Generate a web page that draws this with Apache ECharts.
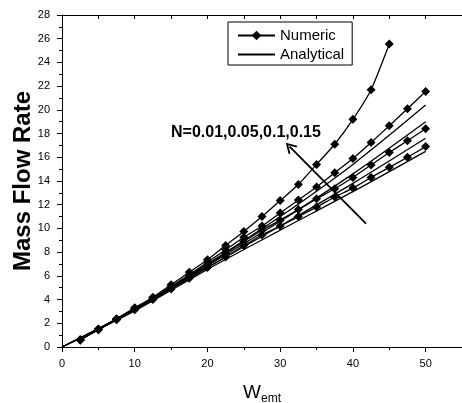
<!DOCTYPE html>
<html lang="en" style="height: 100%">
<head>
<meta charset="utf-8">
<title>Mass Flow Rate vs Wemt</title>
</head>
<body style="height: 100%; margin: 0; background: #fff">
<div id="container" style="width: 462px; height: 403px"></div>

<script type="text/javascript" src="https://cdn.jsdelivr.net/npm/echarts/dist/echarts.min.js"></script>

<script type="text/javascript">

// x positions of the numeric points
var wNumeric = [2.5, 5, 7.5, 10, 12.5, 15, 17.5, 20, 22.5, 25, 27.5, 30, 32.5, 35, 37.5, 40, 42.5, 45, 47.5, 50];

// numeric results (diamonds), N = 0.15, 0.1, 0.05, 0.01
var numN015 = [0.62, 1.52, 2.39, 3.3, 4.2, 5.25, 6.3, 7.36, 8.57, 9.75, 11.0, 12.35, 13.7, 15.4, 17.1, 19.2, 21.7, 25.55];
var numN010 = [0.6, 1.5, 2.35, 3.25, 4.15, 5.1, 6.1, 7.15, 8.2, 9.25, 10.2, 11.3, 12.4, 13.5, 14.7, 15.9, 17.25, 18.66, 20.1, 21.55];
var numN005 = [0.6, 1.48, 2.33, 3.2, 4.1, 5.0, 5.95, 6.9, 7.9, 8.9, 9.85, 10.7, 11.6, 12.5, 13.35, 14.3, 15.35, 16.4, 17.4, 18.4];
var numN001 = [0.6, 1.45, 2.3, 3.15, 4.0, 4.9, 5.8, 6.7, 7.6, 8.55, 9.45, 10.2, 11.0, 11.8, 12.65, 13.4, 14.3, 15.15, 16.0, 16.9];

// analytical curves (no markers)
var wAnalytical = [0, 10, 20, 30, 40, 50];
var anaA = [0, 3.2, 7.0, 11.0, 15.4, 20.4];
var anaB = [0, 3.15, 6.85, 10.6, 14.6, 19.0];
var anaC = [0, 3.1, 6.7, 10.2, 13.8, 17.6];
var anaD = [0, 3.05, 6.55, 9.85, 13.1, 16.5];

// arrow annotation (data coords: tail, head)
var arrowTail = [41.8, 10.4];
var arrowHead = [31.3, 16.9];

var FONT = '"Liberation Sans", Arial, sans-serif';

function pairs(xs, ys) {
    return ys.map(function (y, i) { return [xs[i], y]; });
}

function numericSeries(vals) {
    return {
        name: 'Numeric',
        type: 'line',
        data: pairs(wNumeric, vals),
        symbol: 'diamond',
        symbolSize: 9,
        showAllSymbol: true,
        smooth: 0.2,
        itemStyle: { color: '#000' },
        lineStyle: { color: '#000', width: 1.3 },
        animation: false,
        z: 3
    };
}

function analyticalSeries(vals) {
    return {
        name: 'Analytical',
        type: 'line',
        data: pairs(wAnalytical, vals),
        symbol: 'none',
        smooth: 0.3,
        itemStyle: { color: '#000' },
        lineStyle: { color: '#000', width: 1.3 },
        animation: false,
        z: 2
    };
}

var dom = document.getElementById('container');
var myChart = echarts.init(dom);

var series = [
    numericSeries(numN015),
    numericSeries(numN010),
    numericSeries(numN005),
    numericSeries(numN001),
    analyticalSeries(anaA),
    analyticalSeries(anaB),
    analyticalSeries(anaC),
    analyticalSeries(anaD)
];

// arrow drawn as a markLine on the last series
series[7].markLine = {
    silent: true,
    animation: false,
    symbol: ['none', 'path://M5,0 L10,9 L8.6,9.8 L5,3.2 L1.4,9.8 L0,9 Z'],
    symbolSize: [12, 11],
    label: { show: false },
    lineStyle: { color: '#000', width: 1.8, type: 'solid' },
    data: [[{ coord: arrowTail }, { coord: arrowHead }]]
};

var option = {
    backgroundColor: '#fff',
    textStyle: { fontFamily: FONT, color: '#000' },
    grid: { left: 62, right: 0, top: 15, bottom: 56, outerBoundsMode: 'none' },
    legend: {
        data: [
            { name: 'Numeric' },
            { name: 'Analytical', itemStyle: { color: 'rgba(0,0,0,0)', borderWidth: 0 } }
        ],
        orient: 'vertical',
        left: 228,
        top: 22,
        padding: [6, 8, 3, 9],
        itemWidth: 37,
        itemHeight: 12,
        itemGap: 4,
        borderColor: '#000',
        borderWidth: 1,
        textStyle: { fontFamily: FONT, fontSize: 15, color: '#000' }
    },
    xAxis: [{
        type: 'value',
        min: 0,
        max: 55,
        interval: 10,
        name: '{w|W}{s|emt}',
        nameLocation: 'middle',
        nameGap: 34,
        nameTextStyle: {
            rich: {
                w: { fontFamily: FONT, fontSize: 19, color: '#000' },
                s: { fontFamily: FONT, fontSize: 12, color: '#000', padding: [12, 0, 0, 0] }
            }
        },
        axisLine: { show: true, onZero: false, lineStyle: { color: '#000', width: 1 } },
        axisTick: { show: true, inside: false, length: 5, lineStyle: { color: '#000' } },
        minorTick: { show: true, splitNumber: 2, length: 3, lineStyle: { color: '#000' } },
        axisLabel: { fontFamily: FONT, fontSize: 11, color: '#000', margin: 11, showMaxLabel: false },
        splitLine: { show: false }
    }, {
        type: 'value',
        position: 'top',
        min: 0,
        max: 55,
        interval: 10,
        axisLine: { show: true, onZero: false, lineStyle: { color: '#000', width: 1 } },
        axisTick: { show: true, inside: true, length: 4, lineStyle: { color: '#000' } },
        minorTick: { show: true, splitNumber: 2, length: 4, lineStyle: { color: '#000' } },
        axisLabel: { show: false },
        splitLine: { show: false }
    }],
    yAxis: {
        type: 'value',
        min: 0,
        max: 28,
        interval: 2,
        name: 'Mass Flow Rate',
        nameLocation: 'middle',
        nameGap: 27,
        nameMoveOverlap: false,
        nameTextStyle: { fontFamily: FONT, fontSize: 24, fontWeight: 'bold', color: '#000' },
        axisLine: { show: true, onZero: false, lineStyle: { color: '#000', width: 1 } },
        axisTick: { show: true, inside: false, length: 5, lineStyle: { color: '#000' } },
        minorTick: { show: true, splitNumber: 2, length: 3, lineStyle: { color: '#000' } },
        axisLabel: { fontFamily: FONT, fontSize: 11, color: '#000', margin: 12 },
        splitLine: { show: false }
    },
    graphic: [{
        type: 'text',
        left: 171,
        top: 125,
        style: {
            text: 'N=0.01,0.05,0.1,0.15',
            font: 'bold 16px ' + FONT,
            fill: '#000'
        }
    }],
    series: series
};

myChart.setOption(option);

window.addEventListener('resize', myChart.resize);
</script>
</body>
</html>
